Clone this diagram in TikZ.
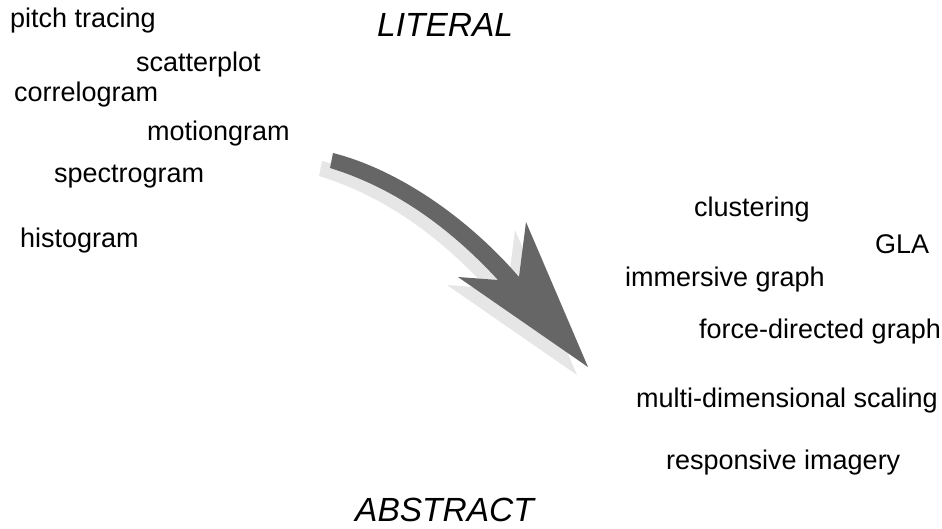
\documentclass[tikz,border=0pt]{standalone}
\usepackage{fontspec}
\setmainfont{Liberation Sans}
\usepackage{xcolor}

\definecolor{arrowgray}{HTML}{666666}
\definecolor{shadowgray}{HTML}{E6E6E6}

\tikzset{
    term/.style={inner sep=0pt, anchor=base west, font=\fontsize{27}{30}\selectfont},
    pole/.style={inner sep=0pt, anchor=base west, font=\fontsize{33.5}{38}\selectfont\itshape}
}

% outline of the bent arrow, tail at top left
\newcommand{\bentarrow}{(333,153) .. controls (400,170) and (470,220) .. (519,277)
    -- (526,222) -- (588,367) -- (458,277) -- (498,280)
    .. controls (450,228) and (395,188) .. (330,168) -- cycle}

\begin{document}
\begin{tikzpicture}[x=1pt, y=-1pt]
    \useasboundingbox (0,0) rectangle (942,528);

    \fill[shadowgray, shift={(-11,8)}] \bentarrow;
    \fill[arrowgray] \bentarrow;

    \node[pole] (literal) at (377,36) {LITERAL};
    \node[pole] (abstract) at (355,521) {ABSTRACT};

    % literal end
    \node[term] (pitch) at (10,27) {pitch tracing};
    \node[term] (scatter) at (136,71) {scatterplot};
    \node[term] (correl) at (14,101) {correlogram};
    \node[term] (motion) at (147,140) {motiongram};
    \node[term] (spectro) at (54,182) {spectrogram};
    \node[term] (histo) at (20,247) {histogram};

    % abstract end
    \node[term] (cluster) at (694,216) {clustering};
    \node[term] (gla) at (875,253) {GLA};
    \node[term] (immersive) at (625,286) {immersive graph};
    \node[term] (force) at (699,338) {force-directed graph};
    \node[term] (mds) at (636,407) {multi-dimensional scaling};
    \node[term] (responsive) at (666,469) {responsive imagery};
\end{tikzpicture}
\end{document}
